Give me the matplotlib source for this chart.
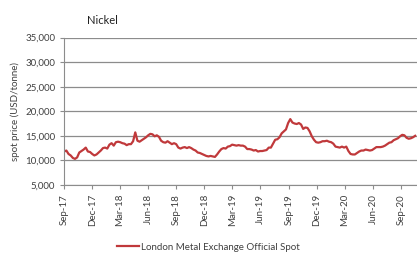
import matplotlib.pyplot as plt
import matplotlib.dates as mdates
import pandas as pd

# weekly LME nickel spot (USD/tonne)
start = '2017-09-01'
prices = [
    11800, 12000, 11300, 11000, 10500,          # Sep-17
    10300, 10600, 11600, 11900,                 # Oct-17
    12200, 12600, 11800, 11700,                 # Nov-17
    11300, 11000, 11200, 11600, 12000,          # Dec-17
    12500, 12600, 12400, 13200,                 # Jan-18
    13500, 13000, 13700, 13800,                 # Feb-18
    13700, 13500, 13400, 13100, 13300,          # Mar-18
    13300, 13900, 15700, 14000,                 # Apr-18
    13800, 14100, 14400, 14700,                 # May-18
    15100, 15400, 15300, 14900, 15100,          # Jun-18
    14800, 14000, 13700, 13600,                 # Jul-18
    13900, 13600, 13300, 13500, 13300,          # Aug-18
    12600, 12400, 12600, 12700,                 # Sep-18
    12500, 12700, 12500, 12200,                 # Oct-18
    12000, 11600, 11500, 11300, 11100,          # Nov-18
    10900, 10800, 10900, 10800,                 # Dec-18
    10700, 11200, 11800, 12300,                 # Jan-19
    12500, 12400, 12800, 12900,                 # Feb-19
    13200, 13100, 13000, 13100, 13000,          # Mar-19
    13000, 12800, 12300, 12300,                 # Apr-19
    12200, 12000, 12100, 11800, 11900,          # May-19
    11900, 12000, 12100, 12600,                 # Jun-19
    12600, 13400, 14200, 14300,                 # Jul-19
    14700, 15500, 15900, 16300, 17600,          # Aug-19
    18400, 17700, 17500, 17400,                 # Sep-19
    17600, 17300, 16400, 16700,                 # Oct-19
    16600, 15900, 14900, 14200, 13700,          # Nov-19
    13600, 13700, 13900, 13900,                 # Dec-19
    14000, 13800, 13700, 13400, 12800,          # Jan-20
    12700, 12600, 12800, 12600,                 # Feb-20
    12800, 11900, 11300, 11200,                 # Mar-20
    11200, 11500, 11800, 12000,                 # Apr-20
    12000, 12200, 12100, 12000, 12100,          # May-20
    12400, 12700, 12700, 12700,                 # Jun-20
    12800, 13000, 13300, 13600, 13700,          # Jul-20
    14100, 14300, 14500, 14900,                 # Aug-20
    15200, 15100, 14600, 14400,                 # Sep-20
    14500, 14700, 15000,                        # Oct-20
]
dates = pd.date_range(start, periods=len(prices), freq='7D')

tick_dates = pd.date_range('2017-09-01', '2020-09-01', freq='3MS')
tick_labels = [d.strftime('%b-%y') for d in tick_dates]

plt.rcParams['font.family'] = ['Lato', 'DejaVu Sans']
grey = '#8c8c8c'
txt = '#404040'

fig = plt.figure(figsize=(4.17, 2.54), dpi=100)
ax = fig.add_axes([0.154, 0.272, 0.846, 0.58])

ax.plot(dates, prices, color='#c0393b', lw=1.6, label='London Metal Exchange Official Spot')

ax.set_ylim(5000, 35000)
ax.set_yticks(range(5000, 35001, 5000))
ax.set_yticklabels([f'{v:,}' for v in range(5000, 35001, 5000)], fontsize=7, color=txt)
ax.set_xlim(pd.Timestamp('2017-09-01'), pd.Timestamp('2020-10-22'))
ax.set_xticks(tick_dates)
ax.set_xticklabels(tick_labels, rotation=90, fontsize=7, color=txt)

ax.grid(axis='y', color=grey, lw=0.9)
for s in ['top', 'right']:
    ax.spines[s].set_visible(False)
for s in ['left', 'bottom']:
    ax.spines[s].set_color(grey)
ax.tick_params(colors=grey, length=3, labelcolor=txt)

ax.set_ylabel('spot price (USD/tonne)', fontsize=7, color=txt)
fig.text(0.245, 0.905, 'Nickel', fontsize=8, color='#222222', ha='center')

fig.legend(loc='lower center', bbox_to_anchor=(0.5, -0.025), frameon=False,
           fontsize=7, handlelength=2.2, handletextpad=0.2, labelcolor=txt)

fig.savefig('out.png', dpi=100)
